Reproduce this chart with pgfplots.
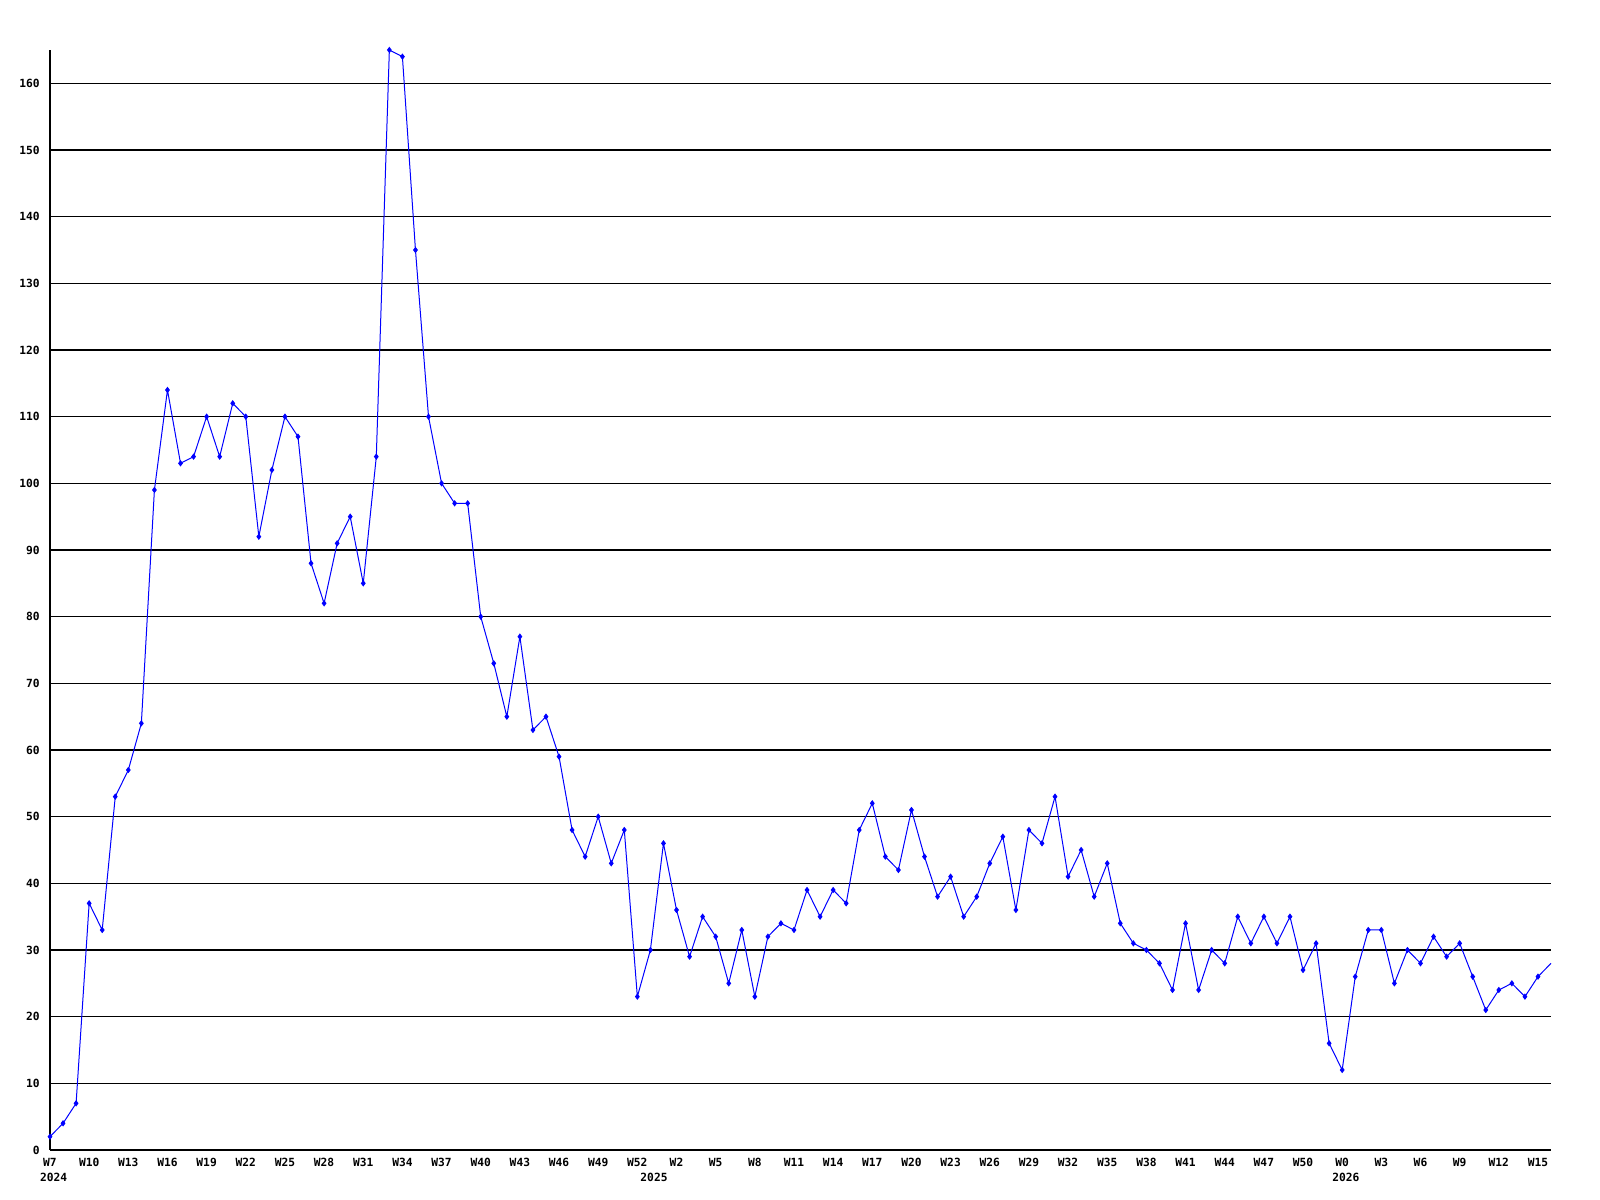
\documentclass[border=0pt]{standalone}
\usepackage{fontspec}
\usepackage{pgfplots}
\pgfplotsset{compat=1.18}
\newfontfamily\tickfont{DejaVu Sans Mono}
\definecolor{lineblue}{RGB}{0,0,255}
\begin{document}
\begin{tikzpicture}
\path[use as bounding box] (0,0) rectangle (400mm,300mm);
\begin{axis}[
  at={(12.5mm,12.5mm)}, anchor=south west,
  scale only axis,
  width=375.25mm, height=275mm,
  xmin=0, xmax=115, ymin=0, ymax=165,
  clip=false,
  axis x line=bottom, axis y line=left,
  axis line style={-, black, line width=0.3mm},
  major tick length=0pt,
  ytick={0,10,...,160},
  ymajorgrids,
  major grid style={black, line width=0.3mm},
  xtick={0,3,...,114},
  xticklabels={W7,W10,W13,W16,W19,W22,W25,W28,W31,W34,W37,W40,W43,W46,W49,W52,W2,W5,W8,W11,W14,W17,W20,W23,W26,W29,W32,W35,W38,W41,W44,W47,W50,W0,W3,W6,W9,W12,W15},
  /pgf/number format/assume math mode=true,
  ticklabel style={font=\tickfont\bfseries\fontsize{8}{9}\selectfont, inner sep=0pt},
  xticklabel style={anchor=north, yshift=-1.9mm},
  yticklabel style={anchor=east, xshift=-2.5mm},
]
\addplot[lineblue, line width=0.25mm, mark=diamond*, mark size=0.6mm, mark options={fill=lineblue, draw=lineblue}, mark indices={1,...,115}] coordinates {
(0,2) (1,4) (2,7) (3,37) (4,33) (5,53) (6,57) (7,64) (8,99) (9,114)
(10,103) (11,104) (12,110) (13,104) (14,112) (15,110) (16,92) (17,102) (18,110) (19,107)
(20,88) (21,82) (22,91) (23,95) (24,85) (25,104) (26,165) (27,164) (28,135) (29,110)
(30,100) (31,97) (32,97) (33,80) (34,73) (35,65) (36,77) (37,63) (38,65) (39,59)
(40,48) (41,44) (42,50) (43,43) (44,48) (45,23) (46,30) (47,46) (48,36) (49,29)
(50,35) (51,32) (52,25) (53,33) (54,23) (55,32) (56,34) (57,33) (58,39) (59,35)
(60,39) (61,37) (62,48) (63,52) (64,44) (65,42) (66,51) (67,44) (68,38) (69,41)
(70,35) (71,38) (72,43) (73,47) (74,36) (75,48) (76,46) (77,53) (78,41) (79,45)
(80,38) (81,43) (82,34) (83,31) (84,30) (85,28) (86,24) (87,34) (88,24) (89,30)
(90,28) (91,35) (92,31) (93,35) (94,31) (95,35) (96,27) (97,31) (98,16) (99,12)
(100,26) (101,33) (102,33) (103,25) (104,30) (105,28) (106,32) (107,29) (108,31) (109,26)
(110,21) (111,24) (112,25) (113,23) (114,26) (115,28)
};
\node[anchor=north, inner sep=0pt, yshift=-5.75mm, xshift=0.9mm, font=\tickfont\bfseries\fontsize{8}{9}\selectfont] at (axis cs:0,0) {2024};
\node[anchor=north, inner sep=0pt, yshift=-5.75mm, xshift=0.9mm, font=\tickfont\bfseries\fontsize{8}{9}\selectfont] at (axis cs:46,0) {2025};
\node[anchor=north, inner sep=0pt, yshift=-5.75mm, xshift=0.9mm, font=\tickfont\bfseries\fontsize{8}{9}\selectfont] at (axis cs:99,0) {2026};
\end{axis}
\end{tikzpicture}
\end{document}
